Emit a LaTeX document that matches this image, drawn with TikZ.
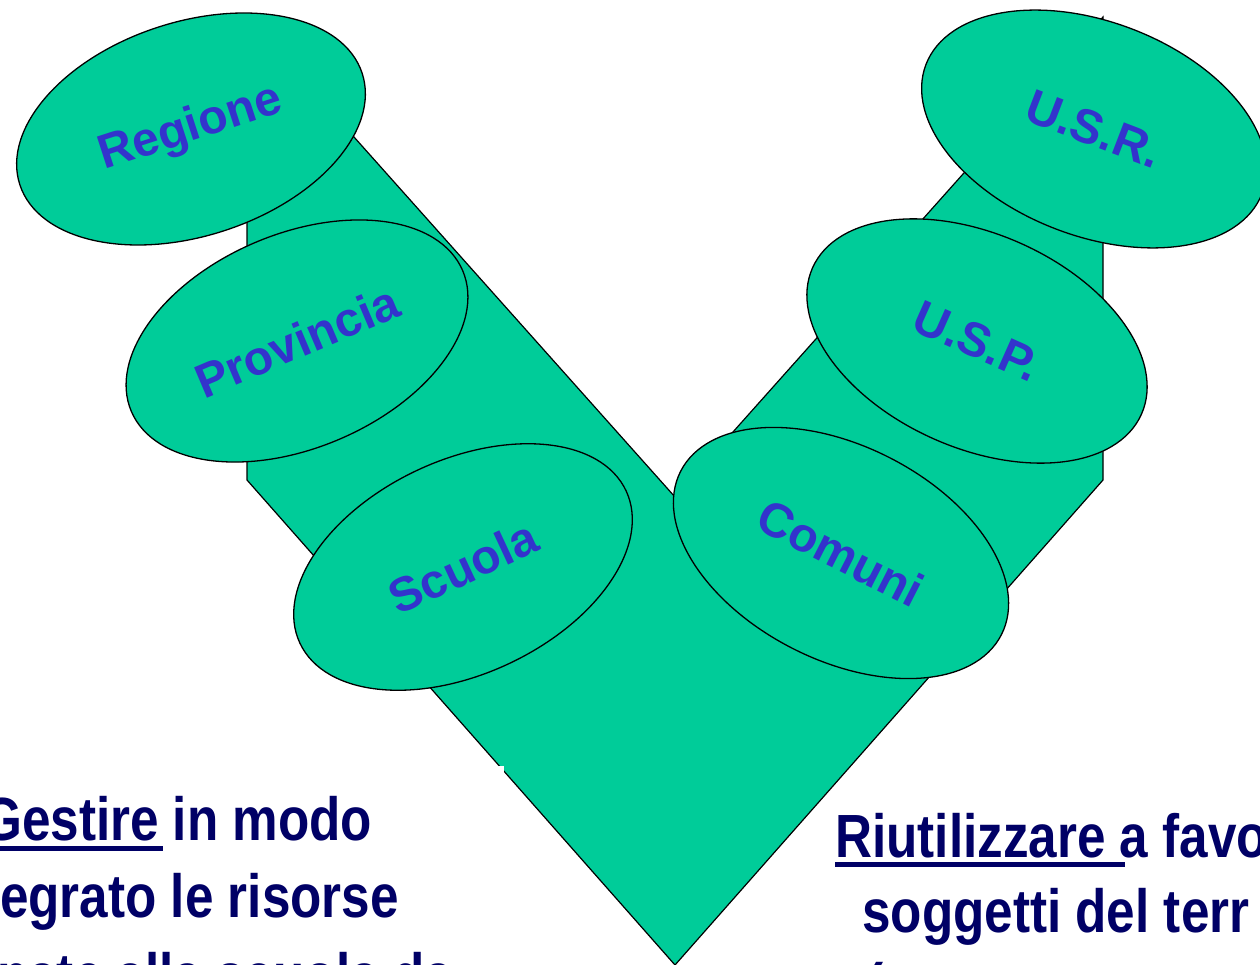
\documentclass[tikz,border=0pt]{standalone}
\usepackage{fontspec}
\setmainfont{Liberation Sans}
\newfontfamily\narrowfont{Liberation Sans}[FakeStretch=0.84]
\usepackage{xcolor}
\usepackage{tikz}
\usetikzlibrary{shapes.geometric}

\definecolor{vgreen}{RGB}{0,204,153}
\definecolor{enteblue}{RGB}{51,51,204}
\definecolor{goalnavy}{RGB}{0,0,102}

\begin{document}
\begin{tikzpicture}[x=1pt, y=-1pt,
  ente/.style={ellipse, draw, line width=1.3pt, fill=vgreen, minimum width=360pt,
    minimum height=214pt, inner sep=0pt, text=enteblue,
    font=\fontsize{48}{52}\selectfont\bfseries},
  goal/.style={anchor=base west, inner sep=0pt, text=goalnavy,
    font=\narrowfont\fontsize{61}{70}\selectfont\bfseries}]
  \useasboundingbox (0,0) rectangle (1260,965);
  \clip (0,0) rectangle (1260,965);
  % V band
  \draw[fill=vgreen, line width=1.2pt, line join=miter]
    (247,17) -- (675,497) -- (1103,17) -- (1103,480) -- (675,965) -- (247,480) -- cycle;
  \fill[white] (497,766) rectangle (504,775);
  % Ellipses (left: school side, right: territory side)
  \foreach \i/\txt/\x/\y/\ang in {
    0/Regione/191/129/18, 1/Provincia/297/341/23, 2/Scuola/463/567/25,
    3/U.S.R./1094/129/-21, 4/U.S.P./977/341/-24, 5/Comuni/841/553/-27
  } {
    \node[ente, rotate=\ang] (ente\i) at (\x,\y) {\txt};
  }
  % Bottom texts
  \node[goal] (gestire) at (-18,840) {Gestire in modo};
  \node[goal] (integrato) at (0,917) {egrato le risorse};
  \node[goal] (assegnate) at (-3,996) {nate alla scuola da};
  \node[goal] (riutilizzare) at (835,857) {Riutilizzare a favo};
  \node[goal] (soggetti) at (862,932) {soggetti del terr};
  \node[goal] (parentesi) at (866,1006) {(};
  % Underlines
  \fill[goalnavy] ([yshift=-6pt]gestire.base west) rectangle ++(181,4.5);
  \fill[goalnavy] ([yshift=-5pt]riutilizzare.base west) rectangle ++(290,4.5);
\end{tikzpicture}
\end{document}
